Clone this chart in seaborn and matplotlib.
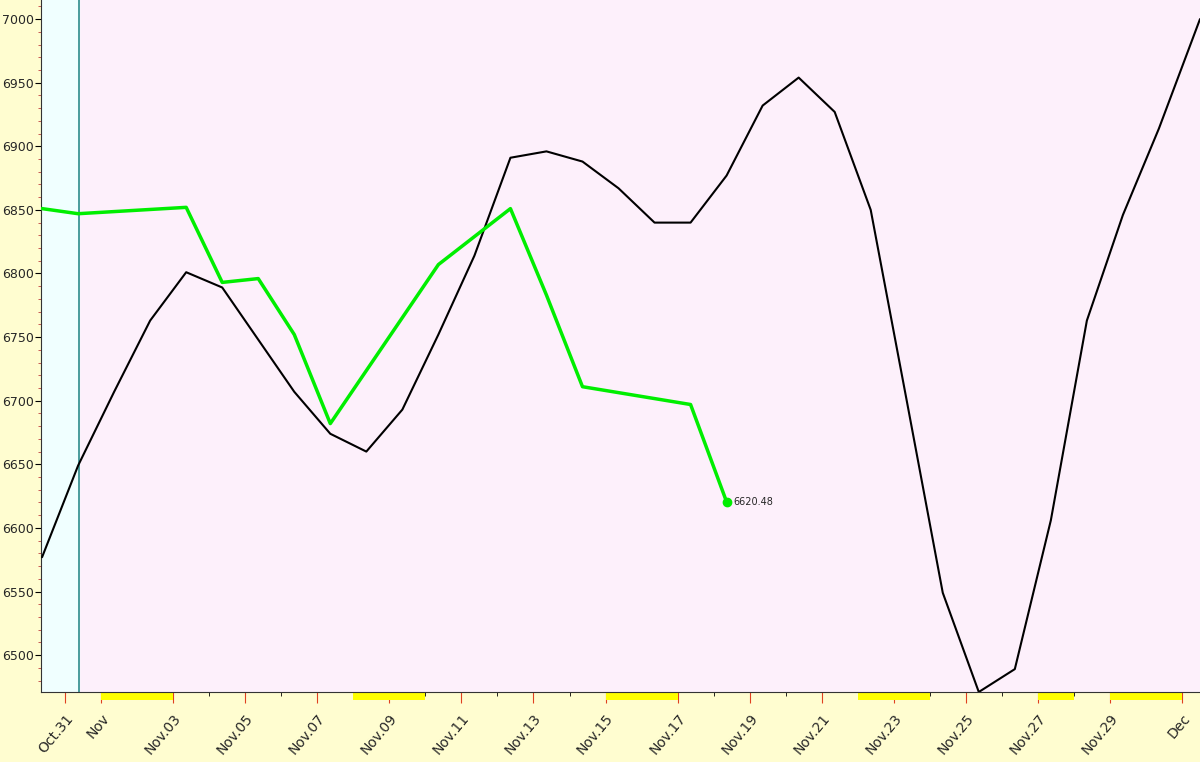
import numpy as np
import pandas as pd
import seaborn as sns
import matplotlib
matplotlib.use("Agg")
import matplotlib.pyplot as plt
from matplotlib.ticker import MultipleLocator

# days since Oct 31
black_x = [-0.64, 0.36, 1.36, 2.36, 3.36, 4.36, 5.36, 6.36, 7.36, 8.36, 9.36, 10.36, 11.36, 12.36,
           13.36, 14.36, 15.36, 16.36, 17.36, 18.36, 19.36, 20.36, 21.36, 22.36, 23.36, 24.36,
           25.36, 26.36, 27.36, 28.36, 29.36, 30.36, 31.5]
black_y = [6577, 6649, 6707, 6763, 6801, 6789, 6748, 6707, 6674, 6660, 6693, 6752, 6814, 6891,
           6896, 6888, 6867, 6840, 6840, 6877, 6932, 6954, 6927, 6850, 6700, 6549,
           6471, 6489, 6606, 6763, 6846, 6914, 7000]
green_x = [-0.64, 0.36, 3.36, 4.36, 5.36, 6.36, 7.36, 10.36, 11.36, 12.36, 13.36, 14.36, 17.36, 18.36]
green_y = [6851, 6847, 6852, 6793, 6796, 6752, 6682, 6807, 6829, 6851, 6783, 6711, 6697, 6620.48]
tick_days = [0, 1, 3, 5, 7, 9, 11, 13, 15, 17, 19, 21, 23, 25, 27, 29, 31]
tick_labels = ["Oct.31", "Nov", "Nov.03", "Nov.05", "Nov.07", "Nov.09", "Nov.11", "Nov.13",
               "Nov.15", "Nov.17", "Nov.19", "Nov.21", "Nov.23", "Nov.25", "Nov.27", "Nov.29", "Dec"]
off_days = [(1, 3), (8, 10), (15, 17), (22, 24), (27, 28), (29, 31)]

sns.set_style("white")
fig = plt.figure(figsize=(12, 7.62), dpi=100, facecolor="#FFFDD0")
ax = fig.add_axes([41/1200, 70/762, 1159/1200, 692/762])
ax.set_facecolor("#FDF0FB")
xmin, xmax = -0.67, 31.5
ax.set_xlim(xmin, xmax)
ax.set_ylim(6471, 7015)
ax.axvspan(xmin, 0.39, color="#F0FFFF", zorder=0)
ax.axvline(0.39, color="#2E8B8B", lw=1.2)

sns.lineplot(x=black_x, y=black_y, color="black", lw=1.5, ax=ax, zorder=3)
sns.lineplot(x=green_x, y=green_y, color="#00EE00", lw=2.5, ax=ax, zorder=4)
ax.plot(green_x[-1], green_y[-1], "o", color="#00EE00", ms=6, zorder=5)
ax.text(green_x[-1] + 0.2, green_y[-1], f"{green_y[-1]:.2f}", fontsize=7, va="center")

for a, b in off_days:
    ax.axvspan(a, b, ymin=-0.012, ymax=0, color="yellow", clip_on=False, lw=0, zorder=1)

ax.set_xticks(tick_days)
ax.set_xticklabels(tick_labels, rotation=50, ha="right", rotation_mode="anchor", fontsize=10)
ax.xaxis.set_minor_locator(MultipleLocator(1))
ax.tick_params(axis="x", which="major", bottom=True, color="#E04020", length=8, direction="out", pad=6)
ax.tick_params(axis="x", which="minor", bottom=True, color="black", length=3, direction="out")
ax.set_yticks(range(6500, 7001, 50))
ax.yaxis.set_minor_locator(MultipleLocator(10))
ax.tick_params(axis="y", which="major", left=True, length=4, color="black", labelsize=9, pad=1)
ax.tick_params(axis="y", which="minor", left=True, length=2, color="#C04040")
for s in ["top", "right"]:
    ax.spines[s].set_visible(False)
for s in ["left", "bottom"]:
    ax.spines[s].set_color("#333333")
fig.savefig("out.png", dpi=100, facecolor=fig.get_facecolor())
